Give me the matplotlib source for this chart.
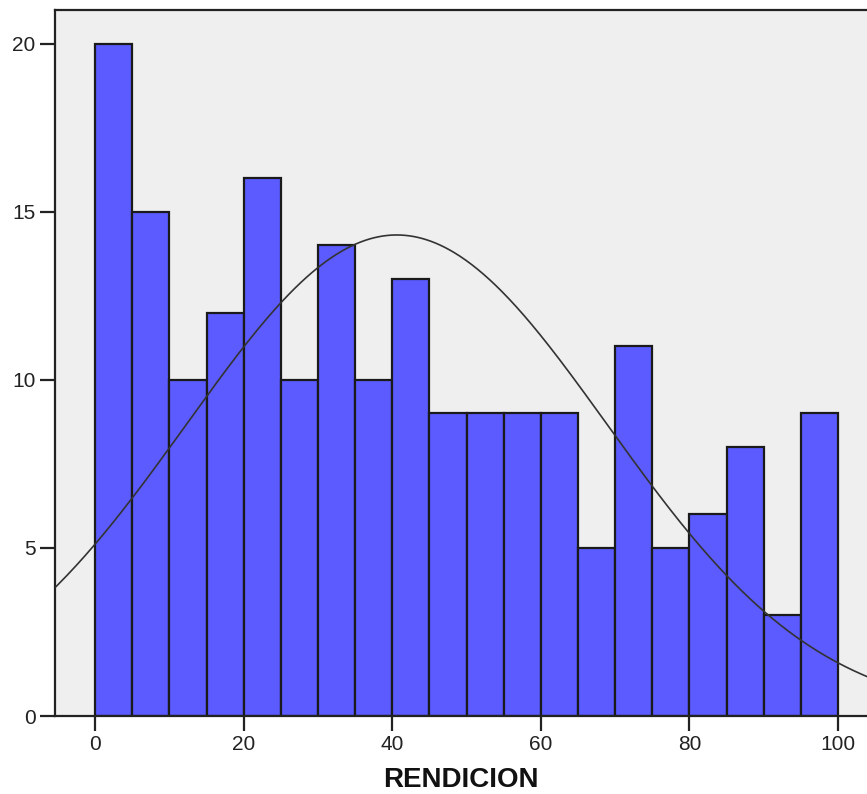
import numpy as np
import matplotlib
matplotlib.use("Agg")
import matplotlib.pyplot as plt

plt.rcParams['font.family'] = ['Liberation Sans', 'DejaVu Sans']

bin_edges = [0, 5, 10, 15, 20, 25, 30, 35, 40, 45, 50, 55, 60, 65, 70, 75, 80, 85, 90, 95, 100]
counts = [20, 15, 10, 12, 16, 10, 14, 10, 13, 9, 9, 9, 9, 5, 11, 5, 6, 8, 3, 9]
mean_val = 40.6
sd_val = 28.3
x_ticks = [0, 20, 40, 60, 80, 100]
y_ticks = [0, 5, 10, 15, 20]
x_label = "RENDICION"

W, H = 867, 794
fig = plt.figure(figsize=(W / 100, H / 100), dpi=100)
left, right, top, bottom = 55, 867, 10, 716
ax = fig.add_axes([left / W, 1 - bottom / H, (right - left) / W, (bottom - top) / H])
ax.set_facecolor('#EFEFEF')

widths = np.diff(bin_edges)
ax.bar(bin_edges[:-1], counts, width=widths, align='edge', color='#5B5BFF',
       edgecolor='#1a1a1a', linewidth=1.6, zorder=2)

n = sum(counts)
bw = widths[0]
xs = np.linspace(-10, 110, 600)
ys = n * bw * np.exp(-0.5 * ((xs - mean_val) / sd_val) ** 2) / (sd_val * np.sqrt(2 * np.pi))
ax.plot(xs, ys, color='#333333', linewidth=1.2, zorder=3)

ax.set_xlim(-5.4, 103.9)
ax.set_ylim(0, 21.0)
ax.set_xticks(x_ticks)
ax.set_yticks(y_ticks)
ax.tick_params(axis='both', direction='out', length=10.5, width=1.6, labelsize=15,
               colors='#222222', pad=3.5)
for s in ['left', 'top', 'bottom']:
    ax.spines[s].set_linewidth(1.6)
    ax.spines[s].set_color('#222222')
ax.spines['right'].set_visible(False)
ax.set_xlabel(x_label, fontsize=20, fontweight='bold', labelpad=9, color='#111111')

fig.savefig('out.png', dpi=100)
